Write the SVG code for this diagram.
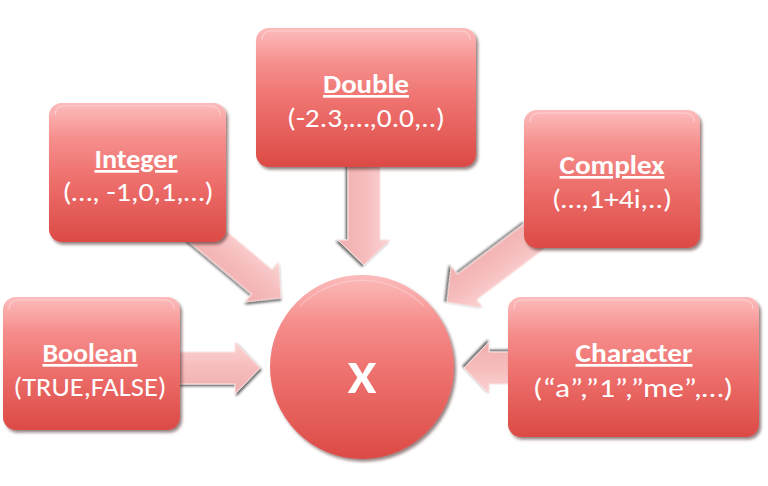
<svg xmlns="http://www.w3.org/2000/svg" width="768" height="486" viewBox="0 0 768 486">
<defs>
<linearGradient id="boxG" x1="0" y1="0" x2="0" y2="1">
<stop offset="0" stop-color="#fa9796"/>
<stop offset="0.5" stop-color="#ef7471"/>
<stop offset="1" stop-color="#dc4a45"/>
</linearGradient>
<linearGradient id="gloss" x1="0" y1="0" x2="0" y2="1">
<stop offset="0" stop-color="#ffffff" stop-opacity="0.35"/>
<stop offset="0.25" stop-color="#ffffff" stop-opacity="0.08"/>
<stop offset="0.5" stop-color="#ffffff" stop-opacity="0"/>
</linearGradient>
<linearGradient id="arrG" x1="0" y1="0" x2="0" y2="1">
<stop offset="0" stop-color="#fbd3d3"/>
<stop offset="0.5" stop-color="#f6bcbc"/>
<stop offset="1" stop-color="#f1aeae"/>
</linearGradient>
<filter id="sh" x="-10%" y="-10%" width="125%" height="125%">
<feDropShadow dx="2" dy="2.5" stdDeviation="1.8" flood-color="#3a1010" flood-opacity="0.55"/>
</filter>
<filter id="ash" x="-20%" y="-20%" width="140%" height="140%">
<feDropShadow dx="1.5" dy="2" stdDeviation="1.2" flood-color="#222" flood-opacity="0.65"/>
</filter>
<polygon id="arr" points="-110,-16 -25,-16 -25,-26 0,0 -25,26 -25,16 -110,16"/>
</defs>
<style>
.box{fill:url(#boxG);filter:url(#sh)}
.gl{fill:url(#gloss)}
.rim{fill:none;stroke:#ffffff;stroke-opacity:0.35;stroke-width:1.2}
.t{font-family:Carlito,Lato,"Open Sans",sans-serif;fill:#ffffff;font-size:27px;text-anchor:middle}
.h{font-weight:bold;text-decoration:underline}
.ar{fill:url(#arrG);filter:url(#ash);stroke:#fce6e6;stroke-width:1}
</style>
<rect width="768" height="486" fill="#ffffff"/>
<g id="connectors">
<use href="#arr" class="ar" transform="translate(364,265) rotate(90)"/>
<use href="#arr" class="ar" transform="translate(281,298) rotate(40)"/>
<use href="#arr" class="ar" transform="translate(447,302) rotate(143)"/>
<use href="#arr" class="ar" transform="translate(260,368)"/>
<use href="#arr" class="ar" transform="translate(464,368) rotate(180)"/>
</g>
<g id="double">
<rect class="box" x="256" y="28" width="220" height="139" rx="13"/>
<rect class="gl" x="256" y="28" width="220" height="139" rx="13"/>
<path class="rim" d="M262,40 Q262,31 272,31 L460,31 Q470,31 470,40"/>
<text class="t h" x="366" y="93" textLength="86" lengthAdjust="spacingAndGlyphs">Double</text>
<text class="t" x="366" y="127" textLength="158" lengthAdjust="spacingAndGlyphs">(-2.3,…,0.0,..)</text>
</g>
<g id="integer">
<rect class="box" x="49" y="103" width="177" height="139" rx="13"/>
<rect class="gl" x="49" y="103" width="177" height="139" rx="13"/>
<path class="rim" d="M55,115 Q55,106 65,106 L210,106 Q220,106 220,115"/>
<text class="t h" x="136" y="168" textLength="83" lengthAdjust="spacingAndGlyphs">Integer</text>
<text class="t" x="138" y="201" textLength="151" lengthAdjust="spacingAndGlyphs">(…, -1,0,1,…)</text>
</g>
<g id="complex">
<rect class="box" x="524" y="110" width="176" height="138" rx="13"/>
<rect class="gl" x="524" y="110" width="176" height="138" rx="13"/>
<path class="rim" d="M530,122 Q530,113 540,113 L684,113 Q694,113 694,122"/>
<text class="t h" x="612" y="174" textLength="105" lengthAdjust="spacingAndGlyphs">Complex</text>
<text class="t" x="612" y="208" textLength="120" lengthAdjust="spacingAndGlyphs">(…,1+4i,..)</text>
</g>
<g id="boolean">
<rect class="box" x="3" y="297" width="177" height="133" rx="13"/>
<rect class="gl" x="3" y="297" width="177" height="133" rx="13"/>
<path class="rim" d="M9,309 Q9,300 19,300 L164,300 Q174,300 174,309"/>
<text class="t h" x="90" y="362" textLength="95" lengthAdjust="spacingAndGlyphs">Boolean</text>
<text class="t" x="90" y="396" textLength="153" lengthAdjust="spacingAndGlyphs">(TRUE,FALSE)</text>
</g>
<g id="character">
<rect class="box" x="508" y="297" width="251" height="140" rx="13"/>
<rect class="gl" x="508" y="297" width="251" height="140" rx="13"/>
<path class="rim" d="M514,309 Q514,300 524,300 L743,300 Q753,300 753,309"/>
<text class="t h" x="634" y="362" textLength="117" lengthAdjust="spacingAndGlyphs">Character</text>
<text class="t" x="633" y="397" textLength="200" lengthAdjust="spacingAndGlyphs">(“a”,”1”,”me”,…)</text>
</g>
<g id="x">
<circle class="box" cx="362" cy="367" r="92"/>
<circle class="gl" cx="362" cy="367" r="92"/>
<path class="rim" d="M300,306 A88,88 0 0 1 424,306" style="stroke-opacity:0.25"/>
<text class="t" x="362" y="393" style="font-size:47px;font-weight:bold" textLength="29" lengthAdjust="spacingAndGlyphs">X</text>
</g>
</svg>
